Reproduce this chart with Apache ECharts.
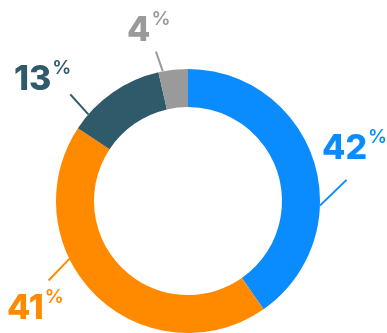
<!DOCTYPE html>
<html>
<head>
<meta charset="utf-8">
<script src="https://cdn.jsdelivr.net/npm/echarts@6/dist/echarts.min.js"></script>
<style>
  html, body { margin: 0; padding: 0; background: #fff; }
  #id_donut { width: 387px; height: 333px; }
</style>
</head>
<body>
<div id="id_donut"></div>
<script>
var shareNames = ['A', 'B', 'C', 'D'];
// slice sizes as drawn (measured from the ring angles)
var shareValues = [40.3, 44.0, 12.1, 3.6];
// percentages as printed on the labels
var shareLabels = ['42', '41', '13', '4'];
var shareColors = ['#0a8cff', '#ff8a00', '#2f5a6a', '#9a9a9a'];

// centre and radii of the ring, in px
var cx = 188, cy = 201, rIn = 94, rOut = 132;
// per slice: where the leader starts (deg on outer edge), its direction, its length, and the label top-left
var leader = [
    { a: -2,  d: 44,  len: 37, lx: 322, ly: 128 },
    { a: 206, d: 226, len: 30, lx: 7,   ly: 288 },
    { a: 139, d: 132, len: 27, lx: 14,  ly: 59 },
    { a: 101, d: 109, len: 21, lx: 127, ly: 10 }
];

var myChart = echarts.init(document.getElementById('id_donut'));

function donut_setOption() {
    var data = [];
    for (var i = 0; i < shareValues.length; i++) {
        data.push({
            name: shareNames[i],
            value: shareValues[i],
            itemStyle: { color: shareColors[i] },
            label: {
                rich: {
                    n: { fontSize: 34, fontWeight: 800, color: shareColors[i], fontFamily: 'Inter', lineHeight: 42 },
                    p: { fontSize: 19, fontWeight: 600, color: shareColors[i], fontFamily: 'Inter', verticalAlign: 'top', lineHeight: 20, padding: [0, 0, 0, 1] }
                }
            },
            labelLine: { lineStyle: { color: shareColors[i], width: 2 } }
        });
    }
    var option = {
        animation: false,
        backgroundColor: '#ffffff',
        series: [{
            type: 'pie',
            center: [cx, cy],
            radius: [rIn, rOut],
            startAngle: 90,
            clockwise: true,
            silent: true,
            label: {
                show: true,
                position: 'outside',
                overflow: 'none',
                formatter: function (p) { return '{n|' + shareLabels[p.dataIndex] + '}{p|%}'; }
            },
            labelLine: { show: true, smooth: false, length: 10, length2: 10 },
            labelLayout: function (params) {
                var L = leader[params.dataIndex];
                var ra = L.a * Math.PI / 180, rd = L.d * Math.PI / 180;
                var x1 = cx + rOut * Math.cos(ra), y1 = cy - rOut * Math.sin(ra);
                var x2 = x1 + L.len * Math.cos(rd), y2 = y1 - L.len * Math.sin(rd);
                return {
                    x: L.lx,
                    y: L.ly,
                    align: 'left',
                    verticalAlign: 'top',
                    width: 80,
                    labelLinePoints: [[x1, y1], [x2, y2], [x2, y2]]
                };
            },
            data: data
        }]
    };
    return option;
}

myChart.setOption(donut_setOption());
</script>
</body>
</html>
